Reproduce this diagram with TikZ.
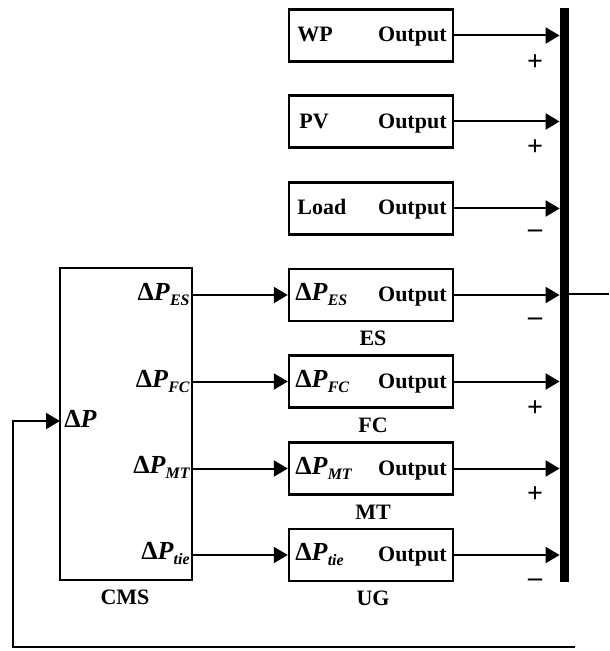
\documentclass[tikz,border=0pt]{standalone}
\usepackage{fontspec}
\setmainfont{Liberation Serif}
\usetikzlibrary{arrows.meta}
\newcommand{\dPx}[1]{{\fontsize{13}{14}\selectfont\bfseries Δ\textit{P}}\raisebox{-0.55ex}{\fontsize{8}{9}\selectfont\bfseries\itshape #1}}
\begin{document}
\begin{tikzpicture}[x=0.5pt,y=-0.5pt]
\tikzset{
  blk/.style={draw, line width=1.2pt, minimum width=82pt, minimum height=26pt, inner sep=0pt},
  cmsblk/.style={draw, line width=1.2pt, minimum width=66pt, minimum height=156pt, inner sep=0pt},
  lbl/.style={font=\fontsize{11}{12}\selectfont\bfseries, inner sep=0pt},
  sgn/.style={font=\fontsize{14}{15}\selectfont\bfseries, inner sep=0pt},
  conn/.style={line width=1pt, -{Triangle[length=7pt,width=8pt]}},
  wire/.style={line width=1pt}
}
\useasboundingbox (0,0) rectangle (609,651);

% bus bar
\node[fill=black, minimum width=4.5pt, minimum height=287pt, inner sep=0pt] (bus) at (564.5,295) {};

% source / load blocks
\node[blk] (wp)   at (371,35.5)  {};
\node[blk] (pv)   at (371,121.5) {};
\node[blk] (load) at (371,208.5) {};
\node[blk] (es)   at (371,295)   {};
\node[blk] (fc)   at (371,381.5) {};
\node[blk] (mt)   at (371,468.5) {};
\node[blk] (ug)   at (371,555)   {};

% texts inside blocks
\node[lbl, anchor=base west] (twp)   at (297,42)  {WP};
\node[lbl, anchor=base west] (tpv)   at (299,129) {PV};
\node[lbl, anchor=base west] (tload) at (297,215) {Load};
\node[lbl, anchor=base east] (owp)   at (447,42)  {Output};
\node[lbl, anchor=base east] (opv)   at (447,129) {Output};
\node[lbl, anchor=base east] (oload) at (447,215) {Output};
\node[lbl, anchor=base east] (oes)   at (447,301) {Output};
\node[lbl, anchor=base east] (ofc)   at (447,388) {Output};
\node[lbl, anchor=base east] (omt)   at (447,475) {Output};
\node[lbl, anchor=base east] (oug)   at (447,561) {Output};
\node[anchor=base west, inner sep=0pt] (ies) at (295,300) {\dPx{ES}};
\node[anchor=base west, inner sep=0pt] (ifc) at (295,387) {\dPx{FC}};
\node[anchor=base west, inner sep=0pt] (imt) at (295,474) {\dPx{MT}};
\node[anchor=base west, inner sep=0pt] (iug) at (295,560) {\dPx{tie}};

% names under blocks
\node[lbl] (nes) at (373,338) {ES};
\node[lbl] (nfc) at (373,425) {FC};
\node[lbl] (nmt) at (373,512) {MT};
\node[lbl] (nug) at (373,598) {UG};

% CMS block
\node[cmsblk] (cms) at (126,424) {};
\node[lbl] (ncms) at (125,597) {CMS};
\node[anchor=base west, inner sep=0pt] (cin) at (64,427) {{\fontsize{13}{14}\selectfont\bfseries Δ\textit{P}}};
\node[anchor=base east, inner sep=0pt] (ces) at (190,300) {\dPx{ES}};
\node[anchor=base east, inner sep=0pt] (cfc) at (190,387) {\dPx{FC}};
\node[anchor=base east, inner sep=0pt] (cmt) at (190,473) {\dPx{MT}};
\node[anchor=base east, inner sep=0pt] (cug) at (190,559) {\dPx{tie}};

% CMS -> blocks
\draw[conn] (cms.east |- es.west) -- (es.west);
\draw[conn] (cms.east |- fc.west) -- (fc.west);
\draw[conn] (cms.east |- mt.west) -- (mt.west);
\draw[conn] (cms.east |- ug.west) -- (ug.west);

% blocks -> bus
\draw[conn] (wp.east)   -- (wp.east -| bus.west);
\draw[conn] (pv.east)   -- (pv.east -| bus.west);
\draw[conn] (load.east) -- (load.east -| bus.west);
\draw[conn] (es.east)   -- (es.east -| bus.west);
\draw[conn] (fc.east)   -- (fc.east -| bus.west);
\draw[conn] (mt.east)   -- (mt.east -| bus.west);
\draw[conn] (ug.east)   -- (ug.east -| bus.west);

% signs
\node[sgn] (s1) at (535,63)  {+};
\node[sgn] (s2) at (535,148) {+};
\node[sgn] (s3) at (535,234) {–};
\node[sgn] (s4) at (535,322) {–};
\node[sgn] (s5) at (535,409) {+};
\node[sgn] (s6) at (535,495) {+};
\node[sgn] (s7) at (535,583) {–};

% bus output
\coordinate (out) at (609,294);
\draw[wire] (bus.east |- out) -- (out);

% feedback
\coordinate (fbr) at (575,647);
\coordinate (fbl) at (13,647);
\coordinate (cmsin) at (60,421);
\draw[conn] (fbr) -- (fbl) -- (fbl |- cmsin) -- (cmsin);
\end{tikzpicture}
\end{document}
